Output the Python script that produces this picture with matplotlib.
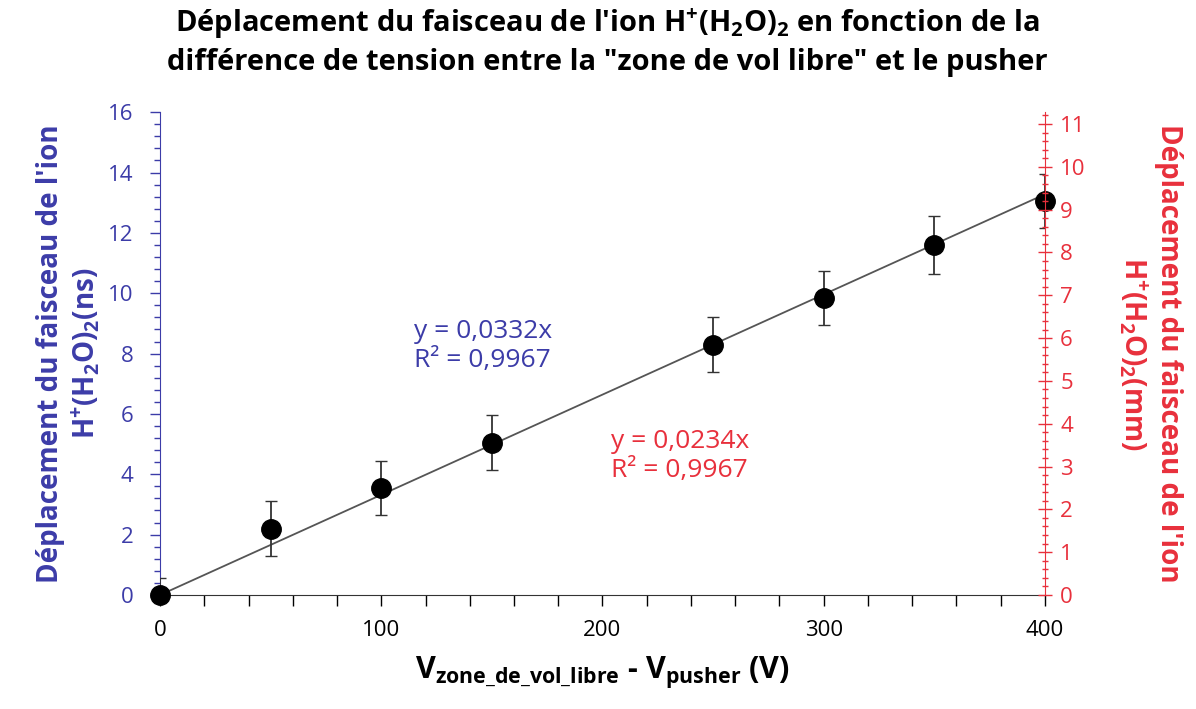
import numpy as np
import matplotlib.pyplot as plt
from matplotlib.ticker import MultipleLocator

plt.rcParams['font.family'] = ['Open Sans', 'DejaVu Sans']
plt.rcParams['mathtext.default'] = 'regular'

tension = [0, 50, 100, 150, 250, 300, 350, 400]
deplacement_ns = [0.0, 2.2, 3.55, 5.05, 8.3, 9.85, 11.6, 13.05]
erreur_ns = [0.55, 0.9, 0.9, 0.9, 0.9, 0.9, 0.95, 0.9]
pente_ns = 0.0332
pente_mm = 0.0234

bleu = '#3c3ca8'
rouge = '#e8303c'

fig = plt.figure(figsize=(11.96, 7.09), dpi=100)
ax = fig.add_axes([0.1338, 0.1608, 0.7399, 0.681])

# barres d'erreur (coupées sous 0) puis points
ax.errorbar(tension, deplacement_ns, yerr=erreur_ns, fmt='none', ecolor='#333333',
            elinewidth=1.3, capsize=4, zorder=3)
ax.plot(tension, deplacement_ns, 'o', color='black', markersize=14, zorder=4, clip_on=False)
xf = np.array([0, 400])
ax.plot(xf, pente_ns * xf, color='#555555', lw=1.3, zorder=2)

ax.set_xlim(0, 400)
ax.set_ylim(0, 16)
ax.xaxis.set_major_locator(MultipleLocator(100))
ax.xaxis.set_minor_locator(MultipleLocator(20))
ax.yaxis.set_major_locator(MultipleLocator(2))
ax.yaxis.set_minor_locator(MultipleLocator(0.4))
ax.tick_params(axis='x', which='both', direction='out', length=8, width=1, labelsize=16,
               colors='black', pad=10)
ax.tick_params(axis='y', which='major', direction='out', length=7, width=1, labelsize=16,
               colors=bleu, pad=12)
ax.tick_params(axis='y', which='minor', direction='out', length=4, width=1, colors=bleu)
ax.spines['top'].set_visible(False)
ax.spines['right'].set_visible(False)
ax.spines['left'].set_color(bleu)
ax.spines['bottom'].set_color('#333333')

ax.set_ylabel("Déplacement du faisceau de l'ion\nH$^{+}$(H$_2$O)$_2$(ns)", color=bleu,
              fontsize=20, fontweight='bold', labelpad=4, linespacing=1.2)
ax.set_xlabel("V$_{zone\\_de\\_vol\\_libre}$ - V$_{pusher}$ (V)", fontsize=22,
              fontweight='bold', labelpad=10)

ax2 = ax.twinx()
ax2.set_ylim(0, 16 * pente_mm / pente_ns)
ax2.yaxis.set_major_locator(MultipleLocator(1))
ax2.yaxis.set_minor_locator(MultipleLocator(0.2))
ax2.tick_params(axis='y', which='major', direction='inout', length=10, width=1, labelsize=16,
                colors=rouge, pad=6)
ax2.tick_params(axis='y', which='minor', direction='inout', length=5, width=1, colors=rouge)
for s in ['top', 'left', 'bottom']:
    ax2.spines[s].set_visible(False)
ax2.spines['right'].set_color(rouge)
ax2.set_ylabel("Déplacement du faisceau de l'ion\nH$^{+}$(H$_2$O)$_2$(mm)", color=rouge,
               fontsize=20, fontweight='bold', rotation=-90, labelpad=70, linespacing=1.2)

ax.text(115, 9.15, "y = 0,0332x\nR² = 0,9967", color=bleu, fontsize=19,
        va='top', ha='left', linespacing=1.2)
ax.text(204, 5.5, "y = 0,0234x\nR² = 0,9967", color=rouge, fontsize=19,
        va='top', ha='left', linespacing=1.2)

fig.suptitle("Déplacement du faisceau de l'ion H$^{+}$(H$_2$O)$_2$ en fonction de la\n"
             "différence de tension entre la \"zone de vol libre\" et le pusher",
             fontsize=21, fontweight='bold', x=0.508, y=0.99, linespacing=1.3)

fig.savefig('out.png', dpi=100)
